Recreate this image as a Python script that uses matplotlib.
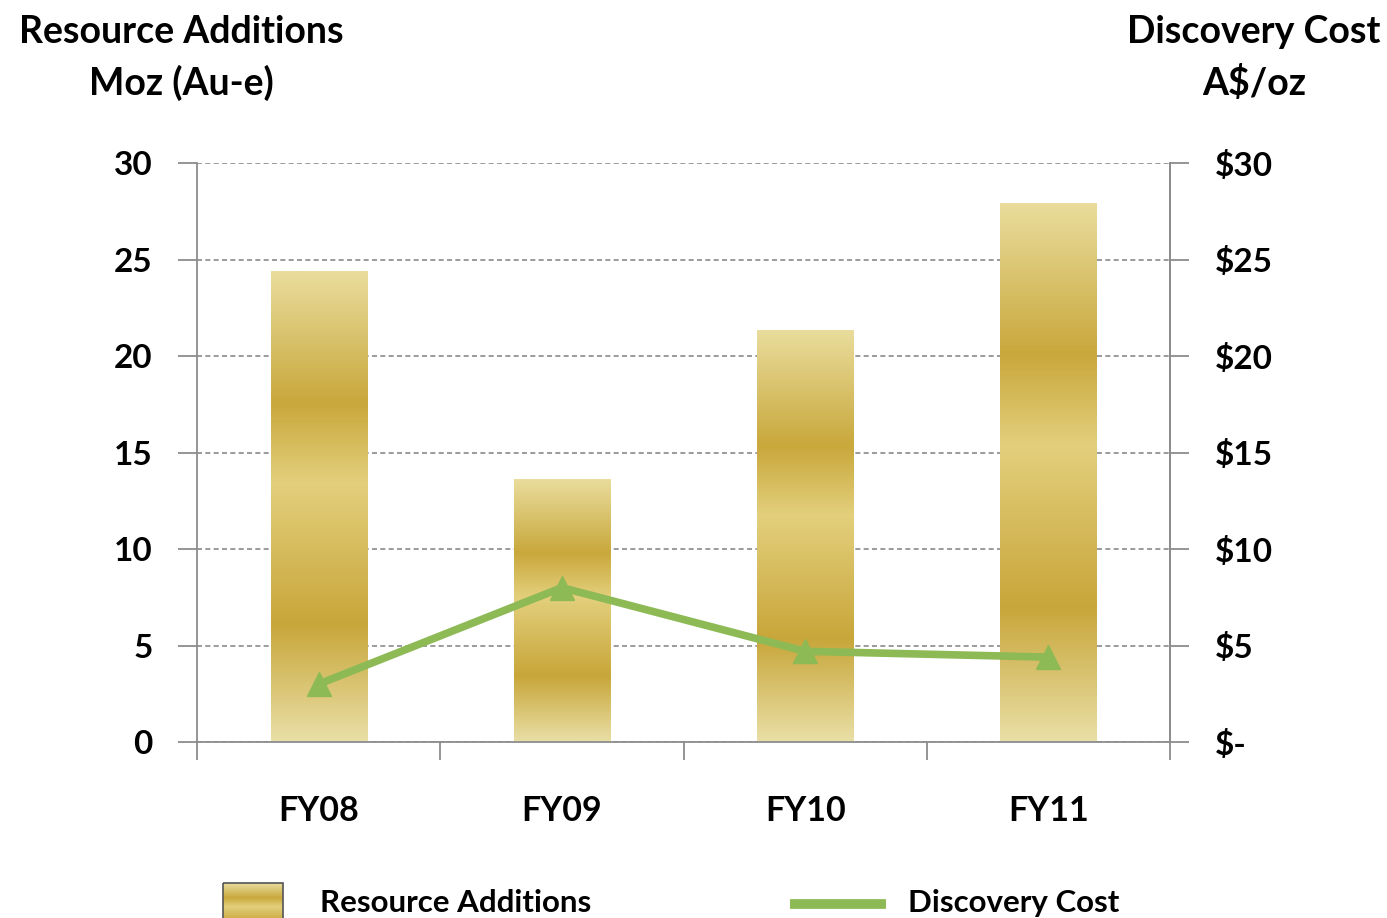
import numpy as np
import matplotlib
matplotlib.use('Agg')
import matplotlib.pyplot as plt
from matplotlib.colors import LinearSegmentedColormap

plt.rcParams['font.family'] = ['Lato', 'DejaVu Sans']
plt.rcParams['font.weight'] = 'bold'

years = ['FY08', 'FY09', 'FY10', 'FY11']
resource_moz = [24.4, 13.6, 21.3, 27.9]  # Moz (Au-e)
discovery_cost = [3.0, 8.0, 4.7, 4.4]  # A$/oz
left_ticks = [0, 5, 10, 15, 20, 25, 30]
right_labels = ['$-', '$5', '$10', '$15', '$20', '$25', '$30']

gold = LinearSegmentedColormap.from_list('gold', [
    (0.0, '#e9dc9c'), (0.28, '#c9a83c'), (0.45, '#e3cf7c'),
    (0.75, '#c8a63a'), (1.0, '#e9dfa6')])
green = '#8dba55'
grey = '#8c8c8c'

fig = plt.figure(figsize=(13.87, 9.18), dpi=100)
ax = fig.add_axes([0.142, 0.1917, 0.7016, 0.6307])

x = np.arange(len(years))
bars = ax.bar(x, resource_moz, width=0.395, color='none', zorder=2)
grad = np.linspace(0, 1, 256).reshape(-1, 1)  # top -> bottom
for b in bars:
    x0, y0, w, h = b.get_x(), b.get_y(), b.get_width(), b.get_height()
    ax.imshow(grad, cmap=gold, extent=[x0, x0 + w, y0, y0 + h],
              aspect='auto', origin='upper', zorder=2)

ax.set_xlim(-0.5, 3.5)
ax.set_ylim(0, 30)
ax.set_yticks(left_ticks)
ax.set_yticklabels([str(t) for t in left_ticks])
ax.yaxis.grid(True, linestyle=(0, (3, 2)), color='#8a8a8a', linewidth=1.2, zorder=0)
ax.set_axisbelow(True)

# category boundaries as ticks, names on minor ticks
ax.set_xticks(np.arange(-0.5, 4, 1))
ax.set_xticklabels([])
ax.set_xticks(x, minor=True)
ax.set_xticklabels(years, minor=True)
ax.tick_params(axis='x', which='major', length=13, width=1.3, color=grey, direction='out')
ax.tick_params(axis='x', which='minor', length=0, pad=38, labelsize=24.5)
ax.tick_params(axis='y', length=14, width=1.3, color=grey, pad=18, labelsize=24)

for s in ['left', 'bottom', 'right']:
    ax.spines[s].set_color(grey)
    ax.spines[s].set_linewidth(1.3)
ax.spines['top'].set_visible(False)

ax2 = ax.twinx()
ax2.plot(x, discovery_cost, color=green, linewidth=5.5, marker='^',
         markersize=17, zorder=3)
ax2.set_ylim(0, 30)
ax2.set_yticks(left_ticks)
ax2.set_yticklabels(right_labels)
ax2.tick_params(axis='y', length=14, width=1.3, color=grey, pad=18, labelsize=24)
for s in ['left', 'bottom', 'top']:
    ax2.spines[s].set_visible(False)
ax2.spines['right'].set_color(grey)
ax2.spines['right'].set_linewidth(1.3)

# axis headers
fig.text(181 / 1387, 1 - 32 / 918, 'Resource Additions', ha='center', va='center', fontsize=27)
fig.text(181 / 1387, 1 - 83 / 918, 'Moz (Au-e)', ha='center', va='center', fontsize=27)
fig.text(1254 / 1387, 1 - 32 / 918, 'Discovery Cost', ha='center', va='center', fontsize=27)
fig.text(1254 / 1387, 1 - 83 / 918, 'A$/oz', ha='center', va='center', fontsize=27)

# legend drawn by hand
lax = fig.add_axes([0, 0, 1, 1], zorder=-1)
lax.set_xlim(0, 1387)
lax.set_ylim(918, 0)
lax.axis('off')
lax.imshow(np.linspace(0, 1, 64).reshape(-1, 1), cmap=gold,
           extent=[223, 283, 935, 883], aspect='auto')
lax.add_patch(plt.Rectangle((223, 883), 60, 52, fill=False, edgecolor='#555555', linewidth=1.2))
lax.text(320, 903, 'Resource Additions', ha='left', va='center', fontsize=22.5)
lax.plot([790, 886], [904, 904], color=green, linewidth=7, solid_capstyle='butt')
lax.text(908, 903, 'Discovery Cost', ha='left', va='center', fontsize=22.5)

fig.savefig('out.png', dpi=100)
